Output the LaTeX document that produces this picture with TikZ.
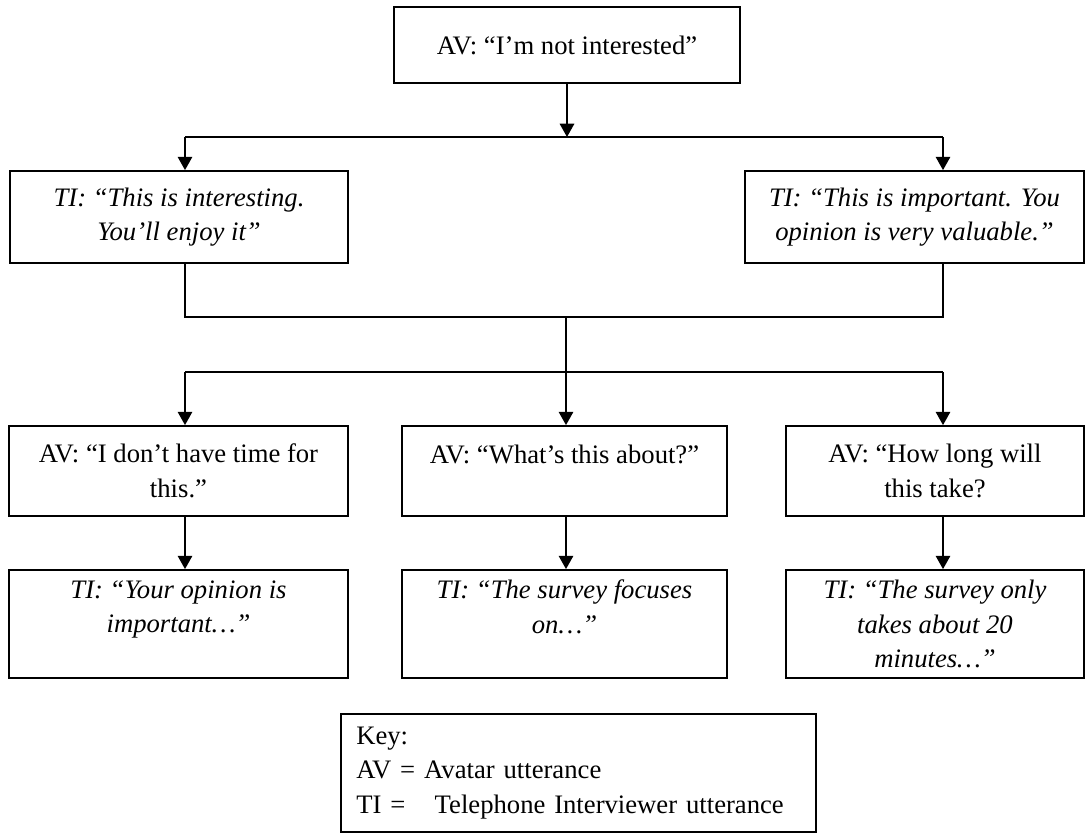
\documentclass[tikz,border=0pt]{standalone}
\usepackage{fontspec}
\setmainfont{Liberation Serif}
\usetikzlibrary{positioning, arrows.meta}

\begin{document}
\begin{tikzpicture}[x=0.45pt, y=-0.45pt,
        box/.style={rectangle, draw=black, line width=0.8pt, align=center, inner sep=0pt, font=\fontsize{12}{15.5}\selectfont},
        tibox/.style={box, font=\fontsize{12}{15.5}\selectfont\itshape},
        wire/.style={line width=0.8pt},
        arr/.style={wire, -{Triangle[length=6pt, width=6.5pt]}}]
            \useasboundingbox (0, 0) rectangle (1086, 838);

            \node[box, minimum width=156pt, minimum height=34pt] (1) at (567, 45) {AV: “I’m not interested”};
            \node[tibox, minimum width=152pt, minimum height=41.4pt] (2) at (179, 217) {TI: “This is interesting.\\You’ll enjoy it”};
            \node[tibox, minimum width=152.5pt, minimum height=41.4pt] (3) at (914.5, 217) {TI: “This is important. You\\opinion is very valuable.”};
            \node[box, minimum width=152.6pt, minimum height=40.5pt] (4) at (178.5, 471) {AV: “I don’t have time for\\this.”};
            \node[box, minimum width=146.3pt, minimum height=40.5pt] (5) at (564.5, 471) {AV: “What’s this about?”\\\mbox{}};
            \node[box, minimum width=134.1pt, minimum height=40.5pt] (6) at (935, 471) {AV: “How long will\\this take?};
            \node[tibox, minimum width=152.6pt, minimum height=48.6pt] (7) at (178.5, 624) {TI: “Your opinion is\\important…”\\\mbox{}};
            \node[tibox, minimum width=146.3pt, minimum height=48.6pt] (8) at (564.5, 624) {TI: “The survey focuses\\on…”\\\mbox{}};
            \node[tibox, minimum width=134.1pt, minimum height=48.6pt] (9) at (935, 624) {TI: “The survey only\\takes about 20\\minutes…”};
            \node[box, align=left, text width=200pt, inner xsep=7pt, minimum height=53.1pt] (10) at (578.5, 773) {Key:\\AV = Avatar utterance\\TI =\hspace{1.1em}Telephone Interviewer utterance};

            \coordinate (a) at (567, 137);
            \coordinate (b) at (185, 137);
            \coordinate (c) at (943, 137);
            \coordinate (d) at (185, 317);
            \coordinate (e) at (943, 317);
            \coordinate (f) at (566, 317);
            \coordinate (g) at (185, 372);
            \coordinate (h) at (943, 372);

            \draw[arr] (1) -- (a);
            \draw[wire] (b) -- (c);
            \draw[arr] (b) -- (b |- 2.north);
            \draw[arr] (c) -- (c |- 3.north);
            \draw[wire] (d |- 2.south) -- (d) -- (e) -- (e |- 3.south);
            \draw[arr] (f) -- (f |- 5.north);
            \draw[wire] (g) -- (h);
            \draw[arr] (g) -- (g |- 4.north);
            \draw[arr] (h) -- (h |- 6.north);
            \draw[arr] (4.south -| g) -- (7.north -| g);
            \draw[arr] (5.south -| f) -- (8.north -| f);
            \draw[arr] (6.south -| h) -- (9.north -| h);
        \end{tikzpicture}
\end{document}
